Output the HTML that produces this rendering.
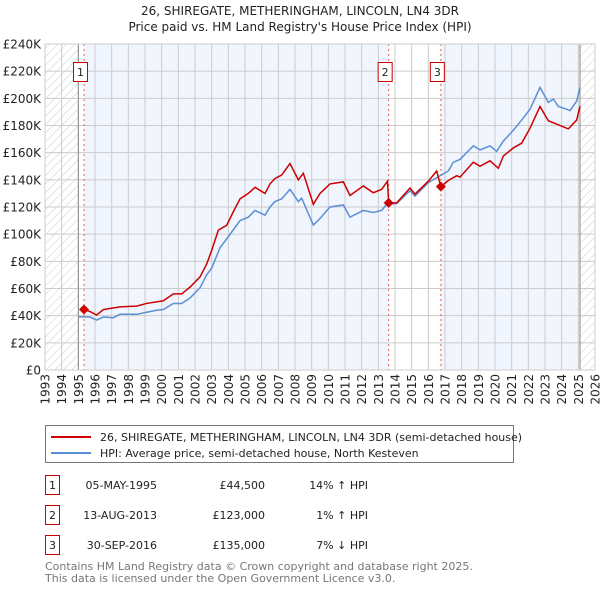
<!DOCTYPE html>
<html><head><meta charset="utf-8"><style>
body{margin:0;background:#fff;font-family:"Liberation Sans","DejaVu Sans",sans-serif;}
svg text{font-family:"DejaVu Sans","Liberation Sans",sans-serif;}
</style></head><body>
<svg id="chart" width="600" height="590" viewBox="0 0 600 590" xmlns="http://www.w3.org/2000/svg">
<defs>
<pattern id="hatch" patternUnits="userSpaceOnUse" width="6" height="6" patternTransform="rotate(45)">
<line x1="0" y1="0" x2="0" y2="6" stroke="#ccc" stroke-width="1"/>
</pattern>
</defs>
<text x="300" y="15" text-anchor="middle" font-size="12" fill="#222">26, SHIREGATE, METHERINGHAM, LINCOLN, LN4 3DR</text>
<text x="300" y="31" text-anchor="middle" font-size="12" fill="#222">Price paid vs. HM Land Registry's House Price Index (HPI)</text>
<g id="plot"></g>
<g>
<rect x="45.5" y="425.5" width="468" height="37" fill="#fff" stroke="#777"/>
<line x1="51" y1="437" x2="91" y2="437" stroke="#cc0000" stroke-width="2"/>
<text x="100" y="441" font-size="11" fill="#222">26, SHIREGATE, METHERINGHAM, LINCOLN, LN4 3DR (semi-detached house)</text>
<line x1="51" y1="453" x2="91" y2="453" stroke="#5b8fd4" stroke-width="2"/>
<text x="100" y="457" font-size="11" fill="#222">HPI: Average price, semi-detached house, North Kesteven</text>
</g>
<g font-size="11" fill="#222">
<rect x="45.5" y="475.5" width="14" height="19" fill="#fff" stroke="#cc0000"/><text x="52.5" y="489" text-anchor="middle">1</text>
<text x="157" y="489" text-anchor="end">05-MAY-1995</text><text x="265" y="489" text-anchor="end">£44,500</text><text x="368" y="489" text-anchor="end">14% ↑ HPI</text>
<rect x="45.5" y="505.5" width="14" height="19" fill="#fff" stroke="#cc0000"/><text x="52.5" y="519" text-anchor="middle">2</text>
<text x="157" y="519" text-anchor="end">13-AUG-2013</text><text x="265" y="519" text-anchor="end">£123,000</text><text x="368" y="519" text-anchor="end">1% ↑ HPI</text>
<rect x="45.5" y="535.5" width="14" height="19" fill="#fff" stroke="#cc0000"/><text x="52.5" y="549" text-anchor="middle">3</text>
<text x="157" y="549" text-anchor="end">30-SEP-2016</text><text x="265" y="549" text-anchor="end">£135,000</text><text x="368" y="549" text-anchor="end">7% ↓ HPI</text>
</g>
<text x="45" y="570" font-size="11" fill="#777">Contains HM Land Registry data © Crown copyright and database right 2025.</text>
<text x="45" y="582" font-size="11" fill="#777">This data is licensed under the Open Government Licence v3.0.</text>
</svg>
<script>
const hpiYears=[1995.0,1995.7,1996.1,1996.5,1997.1,1997.5,1998.5,1999.1,1999.7,2000.1,2000.7,2001.2,2001.7,2002.3,2002.7,2003.0,2003.5,2004.2,2004.7,2005.2,2005.6,2006.2,2006.5,2006.8,2007.2,2007.7,2008.2,2008.4,2009.1,2009.5,2010.1,2010.9,2011.3,2012.1,2012.7,2013.2,2013.5,2014.1,2014.9,2015.2,2016.0,2016.7,2017.2,2017.5,2017.9,2018.7,2019.1,2019.7,2020.1,2020.5,2021.1,2021.6,2022.1,2022.7,2023.2,2023.5,2023.8,2024.3,2024.5,2024.9,2025.1];
const hpiValues=[39.2,39,36.8,39,38.5,41,41,42.5,44,44.5,49,49,53,60.5,70,75,90,101.5,110,112.5,117.5,114,120,124,126,133,124,126.5,106.7,111.5,120,121.5,112.5,117.5,116,117.5,122,122.5,132,128,138,143,146.5,153,155,165,162,165,161,168.5,176.5,184,192,208,197,199.5,194,192,191,198,208];
const ppYears=[1995.35,1995.7,1996.1,1996.5,1997.5,1998.5,1999.1,2000.1,2000.7,2001.2,2001.7,2002.3,2002.7,2003.0,2003.4,2003.9,2004.3,2004.7,2005.2,2005.6,2006.2,2006.5,2006.8,2007.2,2007.7,2008.2,2008.5,2009.1,2009.5,2010.1,2010.9,2011.3,2012.1,2012.7,2013.2,2013.55,2013.62,2014.1,2014.9,2015.2,2016.0,2016.5,2016.75,2017.2,2017.7,2017.9,2018.7,2019.1,2019.7,2020.2,2020.5,2021.1,2021.6,2022.1,2022.7,2023.2,2023.8,2024.4,2024.9,2025.1];
const ppValues=[44.5,43,40.5,44.5,46.5,47,49,51,56,56,61,68.5,78,88,103,106.5,116.5,126,130,134.5,130,137,141,143.5,152,140,144.8,122,130,137,138.5,128.5,135.5,130.5,133,139,123,123,134,129.5,139,146.5,135,139.5,143,142,153,150,154,148.5,157.5,163.5,167,178,194,183.5,180.5,177.5,184,194];
const saleYears=[1995.34,2013.62,2016.75];
const saleValues=[44.5,123,135];
const saleLabels=["1","2","3"];
const yTicks=[0,20,40,60,80,100,120,140,160,180,200,220,240];
const xTicks=[];for(let y=1993;y<=2026;y++)xTicks.push(y);
const X0=45,X1=595,Y0=370,Y1=44;
const xs=y=>X0+(y-1993)/(2026-1993)*(X1-X0);
const ys=v=>Y0-v/240*(Y0-Y1);
const NS="http://www.w3.org/2000/svg";
const g=document.getElementById('plot');
function mk(t,a,p){const e=document.createElementNS(NS,t);for(const k in a)e.setAttribute(k,a[k]);(p||g).appendChild(e);return e;}
let e;
e=mk('rect',{x:X0,y:Y1,width:X1-X0,height:Y0-Y1,fill:'#fff'});


e=mk('rect',{x:xs(saleYears[0]),y:Y1,width:xs(saleYears[1])-xs(saleYears[0]),height:Y0-Y1,fill:'#eef3fc',opacity:0.8});


e=mk('rect',{x:xs(saleYears[2]),y:Y1,width:xs(2025.1)-xs(saleYears[2]),height:Y0-Y1,fill:'#eef3fc',opacity:0.8});


e=mk('rect',{x:X0,y:Y1,width:xs(1995)-X0,height:Y0-Y1,fill:'url(#hatch)'});


e=mk('rect',{x:xs(2025.1),y:Y1,width:X1-xs(2025.1),height:Y0-Y1,fill:'url(#hatch)'});


yTicks.forEach(v=>{
 e=mk('line',{x1:X0,x2:X1,y1:ys(v),y2:ys(v),stroke:'#ccc','stroke-width':1});
 
 
 e=mk('text',{x:X0-4,y:ys(v)+4.5,'text-anchor':'end','font-size':12,fill:'#222'});
 e.textContent=v===0?'£0':'£'+v+'K';
 
 
});
xTicks.forEach(y=>{
 e=mk('line',{x1:xs(y),x2:xs(y),y1:Y1,y2:Y0,stroke:'#ccc','stroke-width':1});
 
 
 e=mk('text',{x:0,y:0,'text-anchor':'end','font-size':12,fill:'#222',transform:`translate(${xs(y)+4.5},374) rotate(-90)`});
 e.textContent=y;
 
 
});
e=mk('line',{x1:xs(1995),x2:xs(1995),y1:Y1,y2:Y0,stroke:'#888'});


e=mk('line',{x1:xs(2025.1),x2:xs(2025.1),y1:Y1,y2:Y0,stroke:'#888'});


saleYears.forEach((y,i)=>{
 e=mk('line',{x1:xs(y),x2:xs(y),y1:Y1,y2:Y0,stroke:'#e06060','stroke-dasharray':'2,3','stroke-width':1});
 
 
});
e=mk('polyline',{points:hpiYears.map((y,i)=>xs(y)+','+ys(hpiValues[i])).join(' '),fill:'none',stroke:'#5b8fd4','stroke-width':1.5});


e=mk('polyline',{points:ppYears.map((y,i)=>xs(y)+','+ys(ppValues[i])).join(' '),fill:'none',stroke:'#cc0000','stroke-width':1.5});


saleYears.forEach((y,i)=>{
 const cx=xs(y),cy=ys(saleValues[i]);
 e=mk('polygon',{points:`${cx},${cy-5} ${cx+5},${cy} ${cx},${cy+5} ${cx-5},${cy}`,fill:'#cc0000'});
 
 
 e=mk('rect',{x:cx-10.5,y:62.5,width:14,height:19,fill:'#fff',stroke:'#cc0000'});
 
 
 e=mk('text',{x:cx-3.5,y:76,'text-anchor':'middle','font-size':11,fill:'#222'});
 e.textContent=saleLabels[i];
 
 
});
e=mk('rect',{x:X0,y:Y1,width:X1-X0,height:Y0-Y1,fill:'none',stroke:'#ccc'});


</script>
</body></html>
